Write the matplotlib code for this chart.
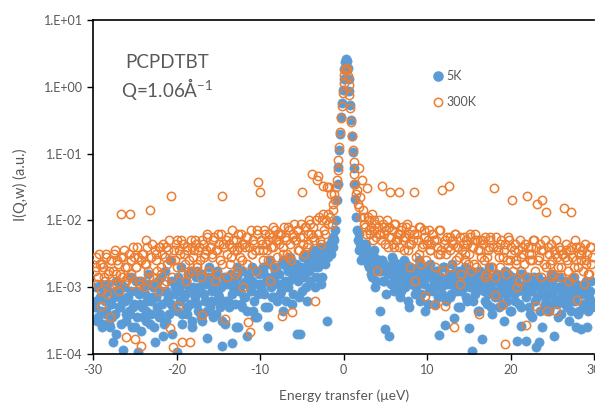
import numpy as np
import matplotlib
matplotlib.use("Agg")
import matplotlib.pyplot as plt
from matplotlib.lines import Line2D

plt.rcParams['font.family'] = ['Lato', 'DejaVu Sans']
plt.rcParams['mathtext.fontset'] = 'custom'
plt.rcParams['mathtext.rm'] = 'Lato'
plt.rcParams['mathtext.it'] = 'Lato:italic'
plt.rcParams['mathtext.default'] = 'regular'

# ---------------- data (log10 of intensity, read from the log axis) ----------------
# energy grids (ueV): (start, step) for each block of points
grid_left = (-29.8, 0.2)
grid_left2 = (-29.7, 0.2)
grid_peak = (-1.7, 0.1)
grid_right = (2.4, 0.2)
grid_right2 = (2.5, 0.2)

log10_I_5K_left = [
    -3.3, -3.0, -3.45, -3.15, -2.95, -3.55, -3.2, -3.35, -3.05, -3.6,
    -3.25, -3.82, -3.4, -2.9, -3.1, -3.3, -2.95, -3.94, -3.2, -3.5,
    -3.15, -3.4, -2.85, -3.3, -3.6, -3.05, -3.97, -3.25, -2.9, -3.45,
    -3.1, -3.35, -2.8, -3.55, -3.2, -3.0, -3.82, -3.15, -2.9, -3.4,
    -3.05, -3.73, -2.75, -3.5, -3.15, -2.6, -3.25, -3.3, -3.0, -3.97,
    -2.85, -3.2, -3.55, -2.95, -3.1, -3.4, -2.8, -3.25, -3.6, -3.0,
    -3.15, -2.75, -3.35, -3.05, -3.5, -2.9, -3.2, -3.76, -2.85, -3.3,
    -3.0, -3.45, -2.8, -3.2, -3.1, -3.3, -3.88, -2.95, -3.55, -2.85,
    -3.2, -2.9, -3.84, -3.0, -3.25, -2.7, -3.6, -3.05, -3.3, -2.95,
    -3.15, -3.73, -2.8, -3.0, -2.9, -3.35, -3.45, -2.75, -3.1, -2.95,
    -3.05, -2.7, -3.3, -2.85, -3.58, -2.6, -3.15, -2.9, -2.75, -3.2,
    -2.8, -3.1, -2.65, -3.35, -2.9, -2.7, -3.0, -2.55, -3.25, -2.85,
    -2.7, -3.7, -2.8, -3.7, -3.05, -2.75, -2.5, -3.2, -2.65, -2.9,
    -2.6, -2.45, -3.0, -2.55, -2.7, -2.4, -2.85, -2.5, -2.65, -3.5,
    -2.45,
]
log10_I_5K_left2 = [
    -3.2, -3.5, -3.0, -3.35, -3.6, -3.1, -3.4, -2.95, -3.55, -3.25,
    -3.45, -3.15, -3.7, -3.05, -3.3, -3.55, -3.2, -3.0, -3.4, -3.15,
    -3.35, -3.05, -3.6, -3.25, -2.9, -3.45, -3.1, -3.65, -3.3, -3.0,
    -3.5, -3.2, -2.95, -3.4, -3.15, -3.6, -3.0, -3.3, -3.45, -2.85,
    -3.25, -3.55, -3.05, -3.2, -3.4, -2.9, -3.7, -3.1, -2.95, -3.35,
    -3.05, -2.7, -3.4, -3.15, -2.9, -3.3, -3.0, -2.75, -3.5, -3.1,
    -2.85, -3.25, -3.0, -3.45, -2.8, -3.1, -2.95, -3.35, -2.7, -3.2,
    -3.05, -2.9, -3.4, -2.75, -3.15, -3.0, -3.5, -2.85, -3.2, -2.95,
    -3.3, -2.8, -3.1, -2.95, -3.6, -2.85, -3.05, -3.25, -2.75, -3.15,
    -2.9, -3.35, -2.85, -3.05, -2.7, -3.2, -2.95, -3.45, -2.8, -3.0,
    -2.75, -3.1, -2.9, -3.3, -2.65, -3.0, -2.85, -3.15, -2.7, -2.95,
    -2.8, -3.05, -2.6, -2.95, -3.2, -2.75, -2.9, -2.65, -3.1, -2.8,
    -2.65, -2.9, -3.15, -2.7, -2.55, -2.85, -3.0, -2.6, -2.75, -2.5,
    -2.7, -2.55, -2.85, -2.45, -2.65, -2.95, -2.5, -2.6, -2.4, -2.55,
]
log10_I_5K_peak = [
    -2.45, -2.35, -2.5, -2.3, -2.4, -2.25, -2.3, -2.15, -2.0, -1.7,
    -1.45, -1.2, -0.95, -0.7, -0.45, -0.25, -0.05, 0.12, 0.27, 0.37,
    0.42, 0.38, 0.28, 0.12, -0.06, -0.27, -0.5, -0.73, -0.97, -1.22,
    -1.45, -1.68, -1.95, -2.15, -2.3, -2.2, -2.45, -2.35, -2.6, -2.4,
    -2.55,
]
log10_I_5K_right = [
    -2.35, -2.6, -2.45, -2.7, -2.5, -2.85, -2.55, -3.0, -2.65, -2.75,
    -3.36, -2.6, -2.9, -3.63, -2.7, -3.73, -2.8, -2.55, -3.05, -2.75,
    -2.9, -2.65, -3.15, -2.8, -2.6, -3.0, -2.85, -3.3, -2.7, -2.95,
    -2.75, -3.1, -2.85, -2.6, -3.2, -2.9, -2.7, -3.35, -2.8, -3.05,
    -2.65, -3.0, -2.9, -3.25, -2.75, -3.72, -2.85, -3.1, -2.7, -3.57,
    -2.95, -2.8, -3.15, -2.65, -3.46, -2.9, -3.05, -2.75, -3.3, -2.85,
    -3.0, -2.7, -3.2, -3.61, -2.9, -3.96, -2.8, -3.1, -2.95, -3.35,
    -2.75, -3.78, -3.05, -2.85, -3.25, -2.7, -3.0, -3.4, -2.9, -3.15,
    -2.8, -3.3, -3.05, -2.95, -3.5, -2.75, -3.2, -3.0, -3.35, -2.85,
    -3.1, -2.9, -3.8, -3.25, -3.58, -2.8, -3.05, -3.8, -2.95, -3.3,
    -3.0, -3.45, -2.85, -3.9, -3.15, -3.82, -2.9, -3.6, -3.05, -3.2,
    -2.95, -3.35, -2.8, -3.1, -3.73, -3.0, -3.25, -2.85, -3.4, -3.05,
    -3.15, -2.9, -3.3, -3.5, -3.0, -3.2, -2.85, -3.6, -3.1, -3.35,
    -3.62, -3.0, -3.25, -2.95, -3.6, -3.15, -2.9, -3.3,
]
log10_I_5K_right2 = [
    -2.5, -2.35, -2.65, -2.55, -2.8, -2.6, -2.45, -2.9, -2.7, -2.6,
    -2.75, -2.9, -2.65, -3.1, -2.8, -2.7, -2.95, -2.6, -2.85, -3.0,
    -2.7, -2.85, -3.05, -2.75, -2.9, -2.65, -3.2, -2.8, -2.95, -2.75,
    -2.9, -3.0, -2.7, -2.85, -3.1, -2.8, -2.95, -2.7, -3.25, -2.85,
    -2.8, -3.05, -2.9, -2.75, -3.15, -2.85, -3.0, -2.7, -2.95, -3.2,
    -2.85, -2.95, -3.1, -2.8, -3.0, -2.75, -3.3, -2.9, -3.05, -2.8,
    -2.95, -3.15, -2.85, -3.0, -2.75, -3.2, -2.9, -3.05, -3.35, -2.85,
    -3.0, -2.9, -3.2, -2.8, -3.1, -2.95, -3.3, -2.85, -3.05, -2.9,
    -3.15, -2.85, -3.0, -3.25, -2.9, -3.1, -2.8, -3.35, -3.0, -2.95,
    -3.2, -2.9, -3.05, -2.8, -3.3, -3.0, -2.95, -3.15, -2.85, -3.4,
    -3.05, -2.9, -3.2, -3.0, -2.85, -3.35, -3.1, -2.95, -3.25, -2.9,
    -3.1, -3.3, -2.9, -3.05, -3.2, -2.85, -3.45, -3.0, -3.15, -2.95,
    -3.25, -3.0, -3.1, -2.9, -3.35, -3.05, -3.2, -2.95, -3.4, -3.1,
    -3.0, -3.25, -3.1, -2.9, -3.35, -3.05, -3.2,
]

log10_I_300K_left = [
    -2.75, -2.55, -2.85, -2.65, -3.28, -2.7, -2.9, -2.5, -2.8, -3.45,
    -2.6, -2.75, -2.45, -2.95, -2.65, -2.8, -1.91, -2.55, -2.7, -3.75,
    -2.85, -1.9, -2.6, -2.4, -3.78, -2.7, -2.55, -2.95, -3.88, -2.5,
    -2.65, -2.3, -2.75, -1.85, -2.55, -2.85, -2.45, -2.6, -3.05, -2.4,
    -2.7, -2.35, -2.55, -2.9, -2.45, -3.61, -1.64, -3.9, -2.6, -2.3,
    -3.28, -2.5, -3.82, -2.35, -2.65, -2.45, -2.8, -3.82, -2.4, -2.55,
    -2.3, -2.7, -2.45, -2.6, -3.42, -2.35, -2.5, -2.25, -2.75, -2.4,
    -2.55, -2.3, -2.9, -2.45, -2.2, -2.6, -1.64, -2.35, -3.48, -2.5,
    -2.25, -2.65, -2.4, -2.3, -2.8, -2.45, -2.2, -2.55, -2.35, -3.0,
    -2.4, -2.25, -3.52, -3.67, -2.5, -2.3, -2.45, -2.15, -1.43, -1.57,
    -2.35, -2.6, -2.2, -2.45, -2.3, -2.9, -2.25, -2.4, -2.15, -2.55,
    -2.3, -2.2, -3.43, -2.4, -2.25, -2.5, -2.1, -2.35, -3.37, -2.2,
    -2.3, -2.15, -2.45, -2.25, -1.57, -2.35, -2.1, -2.4, -2.2, -2.05,
    -1.30, -2.25, -3.2, -1.39, -1.34, -2.3, -2.0, -1.49, -2.2, -1.5,
    -2.05,
]
log10_I_300K_left2 = [
    -2.7, -2.95, -2.5, -3.05, -2.65, -2.85, -2.55, -3.1, -2.75, -2.6,
    -2.95, -2.5, -2.8, -2.6, -3.05, -2.55, -2.85, -2.45, -2.9, -2.7,
    -2.5, -2.8, -2.95, -2.55, -2.7, -2.4, -2.9, -2.6, -2.5, -3.0,
    -2.65, -2.4, -2.85, -2.55, -2.35, -2.95, -2.5, -2.75, -2.4, -2.8,
    -2.5, -2.95, -2.4, -2.65, -2.3, -2.6, -2.85, -2.45, -2.35, -2.7,
    -2.45, -2.3, -2.8, -2.5, -2.9, -2.4, -2.6, -2.3, -2.75, -2.45,
    -2.35, -2.65, -2.4, -2.85, -2.3, -2.55, -2.45, -2.2, -2.75, -2.4,
    -2.5, -2.25, -2.45, -2.8, -2.35, -2.2, -2.65, -2.4, -2.3, -2.85,
    -2.35, -2.55, -2.15, -2.45, -2.3, -2.75, -2.4, -2.2, -2.6, -2.35,
    -2.25, -2.65, -2.4, -2.15, -2.5, -2.35, -2.75, -2.2, -2.45, -2.3,
    -2.45, -2.15, -2.35, -2.6, -2.2, -2.4, -2.1, -2.7, -2.3, -2.2,
    -2.35, -2.2, -2.5, -2.1, -2.3, -2.55, -2.15, -2.6, -2.25, -2.05,
    -2.3, -2.15, -2.45, -2.05, -2.25, -2.5, -2.1, -2.35, -2.0, -2.2,
    -2.1, -2.3, -2.0, -2.2, -1.95, -2.35, -1.9, -2.15, -2.0, -1.9,
]
log10_I_300K_peak = [
    -1.5, -1.95, -1.6, -2.05, -1.75, -1.85, -1.6, -1.7, -1.5, -1.4,
    -1.25, -1.1, -0.9, -0.68, -0.47, -0.28, -0.1, 0.05, 0.17, 0.25,
    0.28, 0.25, 0.16, 0.03, -0.13, -0.32, -0.52, -0.73, -0.95, -1.12,
    -1.3, -1.45, -1.6, -1.55, -1.75, -1.21, -1.8, -1.65, -1.95, -1.39,
    -1.85,
]
log10_I_300K_right = [
    -1.95, -2.1, -1.51, -2.0, -2.2, -1.9, -2.15, -2.05, -2.76, -2.0,
    -2.2, -1.49, -2.1, -2.35, -2.0, -2.25, -1.58, -2.15, -2.4, -2.05,
    -2.3, -1.58, -2.2, -2.1, -2.45, -2.25, -2.05, -2.35, -2.7, -2.15,
    -1.57, -2.9, -2.2, -2.5, -2.1, -2.4, -2.25, -3.13, -2.35, -2.15,
    -2.45, -2.2, -2.3, -3.27, -2.4, -2.15, -2.5, -1.54, -2.35, -3.28,
    -2.25, -1.48, -2.45, -2.3, -3.6, -2.2, -2.4, -2.55, -2.95, -2.45,
    -2.25, -2.6, -2.35, -2.5, -2.2, -2.4, -2.65, -2.3, -2.3, -3.4,
    -2.45, -2.3, -2.6, -2.85, -2.55, -2.4, -2.25, -2.7, -1.52, -3.12,
    -2.4, -2.55, -2.35, -3.27, -2.45, -3.85, -2.6, -2.3, -2.5, -1.69,
    -2.45, -2.6, -3.0, -2.9, -2.55, -2.4, -2.65, -3.57, -1.63, -2.5,
    -2.4, -2.6, -2.3, -3.28, -1.76, -2.55, -2.45, -1.7, -2.65, -1.87,
    -3.36, -2.5, -2.85, -2.6, -2.45, -3.36, -2.55, -2.4, -2.7, -2.5,
    -1.82, -2.45, -2.6, -2.9, -1.87, -2.55, -2.7, -2.4, -3.19, -2.5,
    -2.6, -2.45, -2.95, -2.65, -2.5, -2.8, -2.4, -2.55,
]
log10_I_300K_right2 = [
    -2.05, -2.2, -1.95, -2.15, -2.1, -2.3, -2.0, -2.25, -2.1, -2.2,
    -2.3, -2.05, -2.2, -2.15, -2.4, -2.1, -2.25, -2.35, -2.05, -2.3,
    -2.2, -2.4, -2.15, -2.3, -2.25, -2.1, -2.45, -2.2, -2.35, -2.3,
    -2.2, -2.55, -2.3, -2.1, -2.65, -2.35, -2.15, -2.6, -2.3, -2.45,
    -2.35, -2.2, -2.7, -2.3, -2.5, -2.15, -2.45, -2.75, -2.3, -2.5,
    -2.4, -2.25, -2.7, -2.35, -2.2, -2.6, -2.4, -2.25, -2.8, -2.35,
    -2.5, -2.3, -2.65, -2.25, -2.75, -2.4, -2.2, -2.7, -2.45, -2.3,
    -2.55, -2.35, -2.25, -2.8, -2.45, -2.3, -2.7, -2.4, -2.85, -2.25,
    -2.45, -2.7, -2.3, -2.55, -2.35, -2.8, -2.25, -2.6, -2.4, -2.75,
    -2.35, -2.65, -2.45, -2.3, -2.75, -2.5, -2.35, -2.85, -2.4, -2.6,
    -2.5, -2.3, -2.75, -2.4, -2.6, -2.35, -2.85, -2.45, -2.3, -2.7,
    -2.4, -2.65, -2.35, -2.8, -2.5, -2.3, -2.7, -2.45, -2.85, -2.5,
    -2.55, -2.35, -2.75, -2.45, -2.4, -2.85, -2.3, -2.6, -2.7, -2.4,
    -2.5, -2.75, -2.35, -2.6, -2.8, -2.4, -2.65,
]

series_labels = ['5K', '300K']
y_ticks = [1e-4, 1e-3, 1e-2, 1e-1, 1e0, 1e1]
y_tick_labels = ['1.E-04', '1.E-03', '1.E-02', '1.E-01', '1.E+00', '1.E+01']
x_ticks = [-30, -20, -10, 0, 10, 20, 30]


def assemble(blocks):
    xs, ys = [], []
    for (start, step), vals in blocks:
        xs.append(start + step * np.arange(len(vals)))
        ys.append(np.asarray(vals, dtype=float))
    return np.concatenate(xs), 10.0 ** np.concatenate(ys)


x5, y5 = assemble([(grid_left, log10_I_5K_left), (grid_left2, log10_I_5K_left2),
                   (grid_peak, log10_I_5K_peak), (grid_right, log10_I_5K_right),
                   (grid_right2, log10_I_5K_right2)])
x300, y300 = assemble([(grid_left, log10_I_300K_left), (grid_left2, log10_I_300K_left2),
                       (grid_peak, log10_I_300K_peak), (grid_right, log10_I_300K_right),
                       (grid_right2, log10_I_300K_right2)])

BLUE = '#5B9BD5'
ORANGE = '#ED7D31'
GRAY = '#595959'

fig = plt.figure(figsize=(5.95, 4.03), dpi=100)
ax = fig.add_axes([93 / 595, 1 - 354 / 403, 501 / 595, 334 / 403])

ax.plot(x5, y5, linestyle='none', marker='o', ms=6.6, mfc=BLUE, mec=BLUE,
        mew=0.5, zorder=2)
ax.plot(x300, y300, linestyle='none', marker='o', ms=6.0, mfc='none', mec=ORANGE,
        mew=1.1, zorder=3)

ax.set_yscale('log')
ax.set_ylim(1e-4, 1e1)
ax.set_xlim(-30, 30)
ax.set_yticks(y_ticks)
ax.set_yticklabels(y_tick_labels)
ax.yaxis.set_minor_locator(matplotlib.ticker.NullLocator())
ax.set_xticks(x_ticks)
ax.set_xticklabels([str(t) for t in x_ticks])

ax.tick_params(axis='both', direction='out', length=4.5, width=1.0, color='black',
               labelcolor=GRAY, labelsize=9, pad=3)
for side in ['left', 'bottom', 'top']:
    ax.spines[side].set_color('black')
    ax.spines[side].set_linewidth(1.2)
ax.spines['right'].set_visible(False)

ax.text(0.148, 0.872, 'PCPDTBT', transform=ax.transAxes, ha='center', va='center',
        fontsize=13.5, color=GRAY)
ax.text(0.147, 0.792, 'Q=1.06Å$^{-1}$', transform=ax.transAxes, ha='center',
        va='center', fontsize=13.5, color=GRAY)

handles = [
    Line2D([], [], linestyle='none', marker='o', ms=6.6, mfc=BLUE, mec=BLUE),
    Line2D([], [], linestyle='none', marker='o', ms=6.0, mfc='none', mec=ORANGE, mew=1.1),
]
leg = ax.legend(handles, series_labels, loc='upper left',
                bbox_to_anchor=((434 - 93) / 501, (354 - 70) / 334),
                frameon=False, fontsize=9, handlelength=0.7, handletextpad=0.3,
                labelspacing=1.15, borderpad=0, borderaxespad=0)
for t in leg.get_texts():
    t.set_color(GRAY)

fig.text(20 / 595, 1 - 185 / 403, 'I(Q,w) (a.u.)', rotation=90, ha='center',
         va='center', fontsize=10.5, color=GRAY)
fig.text(344 / 595, 1 - 396 / 403, 'Energy transfer (μeV)', ha='center',
         va='center', fontsize=10, color=GRAY)

fig.savefig('out.png', dpi=100)
